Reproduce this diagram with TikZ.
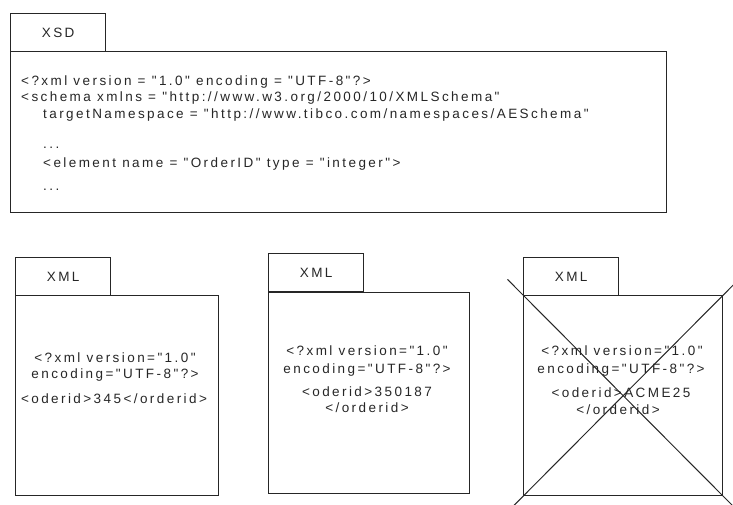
\documentclass[tikz,border=0pt]{standalone}
\usepackage{fontspec}
\setmainfont{Liberation Sans}[LetterSpace=18, Ligatures=TeXOff]
\begin{document}
\begin{tikzpicture}[x=1pt, y=-1pt,
  frame/.style={draw=black!85, line width=1.3pt, inner sep=0pt, anchor=north west},
  tabbox/.style={frame, minimum width=95pt, minimum height=38pt,
    font=\fontsize{13.5}{16}\selectfont, text=black!85},
  code/.style={inner sep=0pt, font=\fontsize{13.5}{16}\selectfont, text=black!85},
  crossline/.style={draw=black!85, line width=1pt}]
\useasboundingbox (0,0) rectangle (733,504);

% schema package
\node[tabbox] (xsdtab) at (10,13) {XSD};
\node[frame, minimum width=656pt, minimum height=161pt] (xsdbody) at (10,51) {};
\node[code, anchor=base west] (s1) at (21,85)  {<?xml version = "1.0" encoding = "UTF-8"?>};
\node[code, anchor=base west] (s2) at (21,101) {<schema xmlns = "http://www.w3.org/2000/10/XMLSchema"};
\node[code, anchor=base west] (s3) at (43,118) {targetNamespace = "http://www.tibco.com/namespaces/AESchema"};
\node[code, anchor=base west] (s4) at (43,148) {...};
\node[code, anchor=base west] (s5) at (43,167) {<element name = "OrderID" type = "integer">};
\node[code, anchor=base west] (s6) at (43,190) {...};

% first instance document
\node[tabbox] (tabA) at (15,257) {XML};
\node[frame, minimum width=203pt, minimum height=200pt] (docA) at (15,295) {};
\node[code, anchor=base] (a1) at (115,362) {<?xml version="1.0"};
\node[code, anchor=base] (a2) at (115,378) {encoding="UTF-8"?>};
\node[code, anchor=base] (a3) at (114,403) {<oderid>345</orderid>};

% second instance document
\node[tabbox] (tabB) at (268,253) {XML};
\node[frame, minimum width=201pt, minimum height=201pt] (docB) at (268,292) {};
\node[code, anchor=base] (b1) at (367,355) {<?xml version="1.0"};
\node[code, anchor=base] (b2) at (367,373) {encoding="UTF-8"?>};
\node[code, anchor=base] (b3) at (367,396) {<oderid>350187};
\node[code, anchor=base] (b4) at (367,412) {</orderid>};

% third instance document (rejected)
\node[tabbox] (tabC) at (523,257) {XML};
\node[frame, minimum width=199pt, minimum height=200pt] (docC) at (523,295) {};
\node[code, anchor=base] (c1) at (622,355) {<?xml version="1.0"};
\node[code, anchor=base] (c2) at (621,373) {encoding="UTF-8"?>};
\node[code, anchor=base] (c3) at (621,397) {<oderid>ACME25};
\node[code, anchor=base] (c4) at (618,414) {</orderid>};
\draw[crossline, shorten <=-22pt, shorten >=-16pt] (docC.north west) -- (docC.south east);
\draw[crossline, shorten <=-16pt, shorten >=-16pt] (docC.north east) -- (docC.south west);
\end{tikzpicture}
\end{document}
